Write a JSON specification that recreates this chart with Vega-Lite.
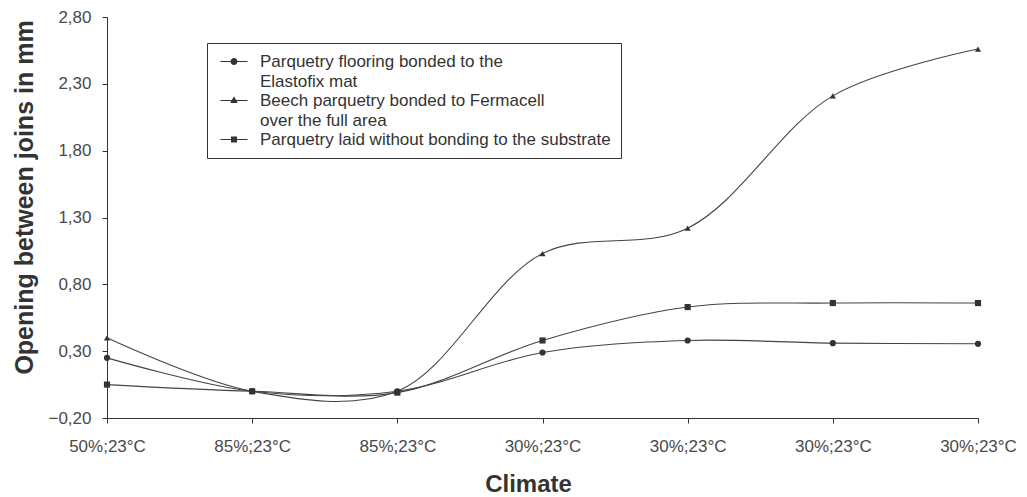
{
  "$schema": "https://vega.github.io/schema/vega-lite/v6.json",
  "width": 871,
  "height": 401,
  "autosize": {"type": "none"},
  "padding": {"left": 107, "top": 17, "right": 49, "bottom": 79},
  "background": "white",
  "config": {
    "view": {"stroke": null},
    "font": "Liberation Sans",
    "style": {"guide-label": {"lineHeight": 20.5}},
    "axis": {"grid": false, "domainColor": "#333", "tickColor": "#333", "labelColor": "#4a4a4a", "labelFontSize": 17, "labelFont": "Liberation Sans", "titleFont": "Liberation Sans", "titleColor": "#333", "titleFontWeight": "bold", "labelFlush": false}
  },
  "data": {
    "values": [
      {"step": 0, "series": "Elastofix", "v": 0.25},
      {"step": 1, "series": "Elastofix", "v": 0.0},
      {"step": 2, "series": "Elastofix", "v": 0.0},
      {"step": 3, "series": "Elastofix", "v": 0.29},
      {"step": 4, "series": "Elastofix", "v": 0.38},
      {"step": 5, "series": "Elastofix", "v": 0.36},
      {"step": 6, "series": "Elastofix", "v": 0.355},
      {"step": 0, "series": "Fermacell", "v": 0.40},
      {"step": 1, "series": "Fermacell", "v": 0.0},
      {"step": 2, "series": "Fermacell", "v": 0.0},
      {"step": 3, "series": "Fermacell", "v": 1.03},
      {"step": 4, "series": "Fermacell", "v": 1.22},
      {"step": 5, "series": "Fermacell", "v": 2.21},
      {"step": 6, "series": "Fermacell", "v": 2.56},
      {"step": 0, "series": "Unbonded", "v": 0.05},
      {"step": 1, "series": "Unbonded", "v": 0.0},
      {"step": 2, "series": "Unbonded", "v": -0.01},
      {"step": 3, "series": "Unbonded", "v": 0.38},
      {"step": 4, "series": "Unbonded", "v": 0.63},
      {"step": 5, "series": "Unbonded", "v": 0.66},
      {"step": 6, "series": "Unbonded", "v": 0.66}
    ]
  },
  "resolve": {"scale": {"shape": "independent"}},
  "encoding": {
    "x": {
      "field": "step", "type": "quantitative",
      "scale": {"domain": [0, 6], "nice": false},
      "axis": {
        "values": [0, 1, 2, 3, 4, 5, 6],
        "labelExpr": "['50%;23°C','85%;23°C','85%;23°C','30%;23°C','30%;23°C','30%;23°C','30%;23°C'][datum.value]",
        "title": "Climate", "titleFontSize": 24, "titleX": 421, "titleY": 66, "titleBaseline": "middle", "tickSize": 5, "labelPadding": 15
      }
    },
    "y": {
      "field": "v", "type": "quantitative",
      "scale": {"domain": [-0.2, 2.8], "nice": false, "zero": false},
      "axis": {
        "values": [-0.2, 0.3, 0.8, 1.3, 1.8, 2.3, 2.8],
        "labelExpr": "replace(format(datum.value, '.2f'), '.', ',')",
        "title": "Opening between joins in mm", "titleFontSize": 25, "titleX": -83, "titleY": 180, "titleBaseline": "middle", "tickSize": 5, "labelPadding": 11
      }
    }
  },
  "layer": [
    {
      "mark": {"type": "line", "interpolate": "catmull-rom", "color": "#444", "strokeWidth": 1.1},
      "encoding": {"detail": {"field": "series"}}
    },
    {
      "mark": {"type": "point", "filled": true, "color": "#333", "opacity": 1},
      "encoding": {
        "shape": {
          "field": "series", "type": "nominal",
          "scale": {"domain": ["Elastofix", "Fermacell", "Unbonded"], "range": ["circle", "triangle-up", "square"]},
          "legend": null
        },
        "size": {"value": 38}
      }
    },
    {
      "transform": [{"filter": "false"}],
      "mark": {"type": "point", "filled": true, "color": "#333", "opacity": 1},
      "encoding": {
        "shape": {
          "field": "series", "type": "nominal",
          "scale": {
            "domain": ["Elastofix", "Fermacell", "Unbonded"],
            "range": [
              "M-2.7,-0.11H2.7V0.11H-2.7Z M0.7,0A0.7,0.7 0 1,1 -0.7,0A0.7,0.7 0 1,1 0.7,0Z",
              "M-2.7,-0.11H2.7V0.11H-2.7Z M0,-0.85L0.75,0.5L-0.75,0.5Z",
              "M-2.7,-0.11H2.7V0.11H-2.7Z M-0.6,-0.6H0.6V0.6H-0.6Z"
            ]
          },
          "legend": {
            "orient": "none", "legendX": 100, "legendY": 26,
            "title": null,
            "strokeColor": "#333", "fillColor": "white", "padding": 10,
            "labelFontSize": 17, "labelColor": "#333", "labelFont": "Liberation Sans",
            "labelLimit": 600, "symbolSize": 100, "symbolOffset": 8.5, "labelOffset": 17.5, "rowPadding": 1,
            "labelExpr": "datum.value == 'Elastofix' ? ['Parquetry flooring bonded to the', 'Elastofix mat'] : datum.value == 'Fermacell' ? ['Beech parquetry bonded to Fermacell', 'over the full area'] : 'Parquetry laid without bonding to the substrate'"
          }
        }
      }
    }
  ]
}
